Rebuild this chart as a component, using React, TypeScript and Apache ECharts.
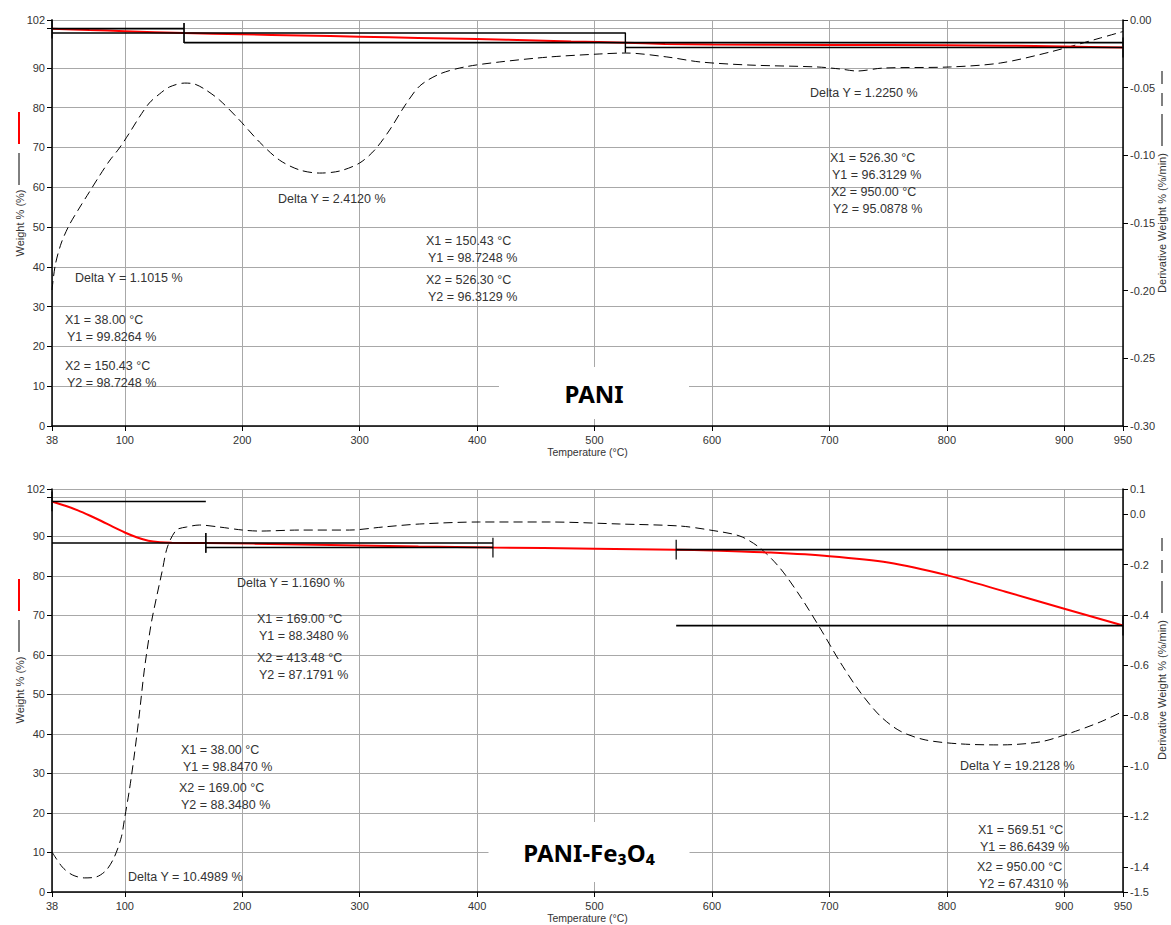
import React, { useEffect, useRef } from "react";
import * as echarts from "echarts";

// ---------- DATA ----------
const tempMin = 38;
const tempMax = 950;

// PANI – weight (%) vs temperature (°C)
const paniWeight: [number, number][] = [
  [38, 99.83], [70, 99.5], [100, 99.2], [150.43, 98.72], [200, 98.4], [250, 98.1],
  [300, 97.8], [350, 97.5], [400, 97.2], [450, 96.85], [480, 96.6], [526.3, 96.31],
  [560, 96.0], [600, 95.85], [700, 95.75], [800, 95.65], [850, 95.55], [900, 95.35], [950, 95.09],
];

// PANI – derivative weight (%/min)
const paniDerivative: [number, number][] = [
  [38, -0.1995], [40.8, -0.181], [45.9, -0.1648], [52.7, -0.1515], [61.3, -0.1389],
  [69.8, -0.1271], [78.3, -0.1153], [86.8, -0.1042], [95.4, -0.0946], [103.9, -0.0835],
  [112.4, -0.0717], [120.9, -0.0613], [129.5, -0.0547], [138, -0.0495], [150.8, -0.0466],
  [159.3, -0.0473], [167.8, -0.051], [180.6, -0.0591], [197.6, -0.0739], [214.7, -0.0902],
  [231.7, -0.1035], [248.8, -0.1108], [265.8, -0.1131], [282.9, -0.1116], [299.9, -0.1057],
  [312.7, -0.0961], [325.5, -0.0813], [338.3, -0.0635], [351.1, -0.0488], [368.1, -0.0399],
  [389.4, -0.0347], [419.3, -0.031], [461.9, -0.0273], [504.5, -0.0251], [526.7, -0.0244],
  [561.6, -0.0273], [589.8, -0.031], [632.4, -0.0333], [689.5, -0.0347], [709.1, -0.0362],
  [723.6, -0.0377], [745.8, -0.0355], [802.9, -0.0347], [845.5, -0.0318], [888.1, -0.0236],
  [930.7, -0.0133], [950, -0.0085],
];

// PANI – step analysis
const paniStepX1 = [38, 150.43, 526.3];
const paniStepY1 = [99.8264, 98.7248, 96.3129];
const paniStepX2 = [150.43, 526.3, 950];
const paniStepY2 = [98.7248, 96.3129, 95.0878];
const paniDeltaY = ["1.1015", "2.4120", "1.2250"];

// PANI-Fe3O4 – weight (%)
const feWeight: [number, number][] = [
  [38, 98.85], [50, 97.7], [60, 96.6], [70, 95.3], [80, 93.9], [90, 92.4], [100, 91.0],
  [110, 89.8], [120, 88.9], [130, 88.5], [140, 88.37], [169, 88.35], [250, 87.95],
  [350, 87.45], [413.48, 87.18], [500, 86.9], [569.51, 86.64], [600, 86.45], [650, 85.9],
  [700, 85.0], [750, 83.4], [800, 80.2], [850, 76.0], [900, 71.7], [950, 67.43],
];

// PANI-Fe3O4 – derivative weight (%/min)
const feDerivative: [number, number][] = [
  [38, -1.341], [46.8, -1.401], [55.3, -1.432], [65.5, -1.444], [75.8, -1.44], [84.3, -1.413],
  [91.1, -1.361], [97.1, -1.281], [99.6, -1.214], [103.9, -1.095], [108.1, -0.956],
  [112.3, -0.797], [116.6, -0.619], [120.9, -0.48], [123.5, -0.408], [132, -0.222],
  [136.3, -0.13], [143.9, -0.063], [152.5, -0.051], [163.5, -0.043], [180.6, -0.051],
  [200.2, -0.063], [214.7, -0.067], [248.8, -0.063], [291.4, -0.063], [319.5, -0.051],
  [351, -0.039], [402.2, -0.031], [461.9, -0.031], [521.5, -0.039], [572.7, -0.047],
  [598.3, -0.063], [623.8, -0.087], [640.8, -0.134], [657.9, -0.214], [675, -0.325],
  [692, -0.452], [709.1, -0.587], [726.1, -0.706], [743.2, -0.801], [760.2, -0.861],
  [781.5, -0.896], [811.4, -0.912], [845.4, -0.916], [879.5, -0.904], [905.1, -0.869],
  [930.6, -0.825], [950, -0.783],
];

// PANI-Fe3O4 – step analysis
const feStepX1 = [38, 169, 569.51];
const feStepY1 = [98.847, 88.348, 86.6439];
const feStepX2 = [169, 413.48, 950];
const feStepY2 = [88.348, 87.1791, 67.431];
const feDeltaY = ["10.4989", "1.1690", "19.2128"];

// ---------- STYLE / LAYOUT ----------
const FONT = "'Liberation Sans', Arial, sans-serif";
const TXT = "#333333";
const GRID_COLOR = "#a8a8a8";
const TICK_HALF = 2.5; // half length of step marker (weight units)
const ANN_SIZE = 12.5;
const ANN_LINE = 16.5;

type AnnLayout = { delta: [number, number]; p1: [number, number]; p2: [number, number] };
const paniAnnLayout: AnnLayout[] = [
  { delta: [75, 278], p1: [65, 320], p2: [65, 366] },
  { delta: [278, 199], p1: [426, 241], p2: [426, 280] },
  { delta: [810, 93], p1: [830, 158], p2: [831, 192] },
];
const feAnnLayout: AnnLayout[] = [
  { delta: [128, 877], p1: [181, 750], p2: [179, 788] },
  { delta: [237, 583], p1: [257, 619], p2: [257, 658] },
  { delta: [960, 766], p1: [978, 830], p2: [977, 867] },
];

function stepSeries(xi: number, yi: number, X1: number[], Y1: number[], X2: number[], Y2: number[]) {
  const base = {
    type: "line",
    xAxisIndex: xi,
    yAxisIndex: yi,
    symbol: "none",
    silent: true,
    z: 4,
    lineStyle: { color: "#000", width: 1.6 },
  };
  const out: any[] = [];
  X1.forEach((x1, i) => {
    out.push({ ...base, data: [[x1, Y1[i]], [X2[i], Y1[i]]] });
    out.push({ ...base, data: [[x1, Y2[i]], [X2[i], Y2[i]]] });
    out.push({ ...base, lineStyle: { color: "#000", width: 1.2 }, data: [[x1, Y1[i] - TICK_HALF], [x1, Y1[i] + TICK_HALF]] });
    out.push({ ...base, lineStyle: { color: "#000", width: 1.2 }, data: [[X2[i], Y2[i] - TICK_HALF], [X2[i], Y2[i] + TICK_HALF]] });
  });
  return out;
}

function txt(x: number, y: number, text: string, extra: any = {}) {
  return {
    type: "text",
    x,
    y,
    z: 20,
    silent: true,
    style: { text, fill: TXT, fontSize: ANN_SIZE, fontFamily: FONT, align: "left", verticalAlign: "middle", ...extra },
  };
}

function annotations(layout: AnnLayout[], X1: number[], Y1: number[], X2: number[], Y2: number[], deltas: string[]) {
  const els: any[] = [];
  layout.forEach((l, i) => {
    els.push(txt(l.delta[0], l.delta[1], `Delta Y = ${deltas[i]} %`));
    els.push(txt(l.p1[0], l.p1[1], `X1 = ${X1[i].toFixed(2)} °C`));
    els.push(txt(l.p1[0] + 2, l.p1[1] + ANN_LINE, `Y1 = ${Y1[i].toFixed(4)} %`));
    els.push(txt(l.p2[0], l.p2[1], `X2 = ${X2[i].toFixed(2)} °C`));
    els.push(txt(l.p2[0] + 2, l.p2[1] + ANN_LINE, `Y2 = ${Y2[i].toFixed(4)} %`));
  });
  return els;
}

function seg(x: number, ya: number, yb: number, stroke: string, lineWidth: number) {
  return { type: "line", z: 20, silent: true, shape: { x1: x, y1: ya, x2: x, y2: yb }, style: { stroke, lineWidth } };
}

function axisNames(center: number) {
  const els: any[] = [];
  // left: Weight % (%) + solid black + red
  els.push({
    type: "text", x: 20, y: center, rotation: Math.PI / 2, z: 20, silent: true,
    style: { text: "Weight % (%)", fill: TXT, fontSize: 11, fontFamily: FONT, align: "center", verticalAlign: "middle" },
  });
  els.push(seg(19, center - 38, center - 70, "#000", 1));
  els.push(seg(19, center - 79, center - 111, "#ff0000", 2));
  // right: Derivative Weight % (%/min) + solid black + dashed
  els.push({
    type: "text", x: 1162, y: center, rotation: Math.PI / 2, z: 20, silent: true,
    style: { text: "Derivative Weight % (%/min)", fill: TXT, fontSize: 11, fontFamily: FONT, align: "center", verticalAlign: "middle" },
  });
  els.push(seg(1162, center - 77, center - 109, "#000", 1));
  els.push(seg(1162, center - 117, center - 130, "#000", 1));
  els.push(seg(1162, center - 139, center - 152, "#000", 1));
  return els;
}

function titleBox(cx: number, cy: number, w: number, h: number, text: string) {
  return [
    { type: "rect", z: 15, silent: true, shape: { x: cx - w / 2, y: cy - h / 2, width: w, height: h }, style: { fill: "#ffffff" } },
    {
      type: "text", x: cx, y: cy, z: 16, silent: true,
      style: { text, fill: "#000", fontSize: 24, fontWeight: "bold", fontFamily: "'Noto Sans', 'Open Sans', sans-serif", align: "center", verticalAlign: "middle" },
    },
  ];
}

const axisText = { color: TXT, fontFamily: FONT, fontSize: 11 };

function xAxisCfg(gridIndex: number) {
  return {
    type: "value",
    gridIndex,
    min: tempMin,
    max: tempMax,
    splitNumber: 9,
    axisLine: { show: true, onZero: false, lineStyle: { color: "#000", width: 1.5 } },
    axisTick: { show: true, length: 5, lineStyle: { color: "#000", width: 1 } },
    axisLabel: { ...axisText, margin: 8, showMinLabel: true, showMaxLabel: true, hideOverlap: false },
    splitLine: { show: true, lineStyle: { color: GRID_COLOR, width: 1 } },
    name: "Temperature (°C)",
    nameLocation: "middle",
    nameGap: 20,
    nameTextStyle: { ...axisText, fontSize: 10.5 },
  };
}

function leftAxisCfg(gridIndex: number) {
  return {
    type: "value",
    gridIndex,
    position: "left",
    min: 0,
    max: 102,
    splitNumber: 10,
    axisLine: { show: true, onZero: false, lineStyle: { color: "#000", width: 1.5 } },
    axisTick: { show: true, length: 5, lineStyle: { color: "#000", width: 1 } },
    axisLabel: {
      ...axisText,
      margin: 7,
      showMinLabel: true,
      showMaxLabel: true,
      hideOverlap: false,
      formatter: (v: number) => (v === 100 ? "" : String(v)),
    },
    splitLine: { show: true, lineStyle: { color: GRID_COLOR, width: 1 } },
  };
}

function rightAxisCfg(gridIndex: number, min: number, max: number, splitNumber: number, digits: number) {
  return {
    type: "value",
    gridIndex,
    position: "right",
    min,
    max,
    splitNumber,
    axisLine: { show: true, onZero: false, lineStyle: { color: "#000", width: 1.5 } },
    axisTick: { show: true, length: 5, lineStyle: { color: "#000", width: 1 } },
    axisLabel: {
      ...axisText,
      margin: 7,
      showMinLabel: true,
      showMaxLabel: true,
      hideOverlap: false,
      formatter: (v: number) => {
        const s = v.toFixed(digits);
        return s === "-0.00" || s === "-0.0" ? s.slice(1) : s;
      },
    },
    splitLine: { show: false },
  };
}

const TOP_GRID = { left: 52, right: 48, top: 20, height: 406 };
const BOT_GRID = { left: 52, right: 48, top: 489, height: 403 };

function buildOption() {
  const dashed = { color: "#000", width: 1, type: [9, 5] };
  const red = { color: "#ff0000", width: 2 };
  return {
    animation: false,
    backgroundColor: "#ffffff",
    grid: [TOP_GRID, BOT_GRID],
    xAxis: [xAxisCfg(0), xAxisCfg(1)],
    yAxis: [leftAxisCfg(0), rightAxisCfg(0, -0.3, 0, 6, 2), leftAxisCfg(1), rightAxisCfg(1, -1.5, 0.1, 8, 1)],
    series: [
      { type: "line", name: "PANI deriv", xAxisIndex: 0, yAxisIndex: 1, data: paniDerivative, symbol: "none", smooth: 0.3, silent: true, lineStyle: dashed, z: 2 },
      { type: "line", name: "PANI weight", xAxisIndex: 0, yAxisIndex: 0, data: paniWeight, symbol: "none", smooth: 0.3, silent: true, lineStyle: red, z: 3 },
      ...stepSeries(0, 0, paniStepX1, paniStepY1, paniStepX2, paniStepY2),
      { type: "line", name: "Fe deriv", xAxisIndex: 1, yAxisIndex: 3, data: feDerivative, symbol: "none", smooth: 0.3, silent: true, lineStyle: dashed, z: 2 },
      { type: "line", name: "Fe weight", xAxisIndex: 1, yAxisIndex: 2, data: feWeight, symbol: "none", smooth: 0.3, silent: true, lineStyle: red, z: 3 },
      ...stepSeries(1, 2, feStepX1, feStepY1, feStepX2, feStepY2),
    ],
    graphic: [
      ...titleBox(594, 393, 190, 52, "PANI"),
      ...titleBox(589, 852, 201, 60, "PANI-Fe₃O₄"),
      ...annotations(paniAnnLayout, paniStepX1, paniStepY1, paniStepX2, paniStepY2, paniDeltaY),
      ...annotations(feAnnLayout, feStepX1, feStepY1, feStepX2, feStepY2, feDeltaY),
      ...axisNames(223),
      ...axisNames(690),
    ],
  };
}

export default function App() {
  const ref = useRef<HTMLDivElement>(null);
  useEffect(() => {
    if (!ref.current) return;
    const chart = echarts.init(ref.current, null, { renderer: "svg" });
    chart.setOption(buildOption() as any);
    return () => chart.dispose();
  }, []);
  return <div ref={ref} style={{ position: "absolute", left: 0, top: 0, width: 1171, height: 925 }} />;
}
